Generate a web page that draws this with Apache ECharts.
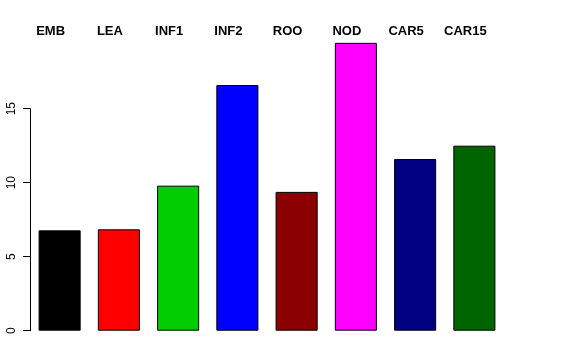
<!DOCTYPE html>
<html>
<head>
<meta charset="utf-8">
<script src="https://cdn.jsdelivr.net/npm/echarts@6/dist/echarts.min.js"></script>
<style>html,body{margin:0;padding:0;background:#fff}#c{width:576px;height:360px}</style>
</head>
<body>
<div id="c"></div>
<script>
var categories = ["EMB", "LEA", "INF1", "INF2", "ROO", "NOD", "CAR5", "CAR15"];
var values = [6.78, 6.85, 9.8, 16.6, 9.38, 19.45, 11.6, 12.5];
var barColors = ["#000000", "#FF0000", "#00CD00", "#0000FF", "#8B0000", "#FF00FF", "#000080", "#006400"];
var yTicks = [0, 5, 10, 15];

var chart = echarts.init(document.getElementById('c'), null, {renderer: 'canvas'});
chart.setOption({
  animation: false,
  backgroundColor: '#ffffff',
  grid: {left: 30, right: 72, top: 108.7, bottom: 29.3},
  xAxis: {
    type: 'category',
    position: 'top',
    data: categories,
    axisLine: {show: false},
    axisTick: {show: false},
    axisLabel: {
      margin: 71,
      padding: [0, 18, 0, 0],
      fontFamily: 'Liberation Sans, Arial, sans-serif',
      fontWeight: 'bold',
      fontSize: 13,
      color: '#000'
    }
  },
  yAxis: {
    type: 'value',
    min: 0,
    max: 15,
    interval: 5,
    splitLine: {show: false},
    axisLine: {show: true, lineStyle: {color: '#000', width: 1}},
    axisTick: {show: true, length: 7, lineStyle: {color: '#000'}},
    axisLabel: {
      rotate: 90,
      margin: 12,
      fontFamily: 'Liberation Sans, Arial, sans-serif',
      fontSize: 12,
      color: '#000',
      formatter: function (v) { return yTicks.indexOf(v) >= 0 ? String(v) : ''; }
    }
  },
  series: [{
    type: 'bar',
    clip: false,
    barCategoryGap: '29%',
    data: values.map(function (v, i) {
      return {value: v, itemStyle: {color: barColors[i]}};
    }),
    itemStyle: {borderColor: '#000', borderWidth: 1}
  }]
});
</script>
</body>
</html>
